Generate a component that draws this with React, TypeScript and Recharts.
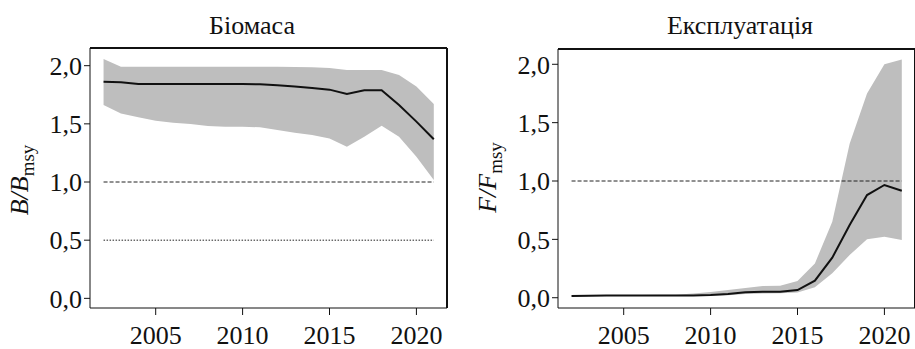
import React from 'react';
import {
  ComposedChart,
  Area,
  Line,
  XAxis,
  YAxis,
  ReferenceLine,
} from 'recharts';

// years of the assessment
const years = [
  2002, 2003, 2004, 2005, 2006, 2007, 2008, 2009, 2010, 2011,
  2012, 2013, 2014, 2015, 2016, 2017, 2018, 2019, 2020, 2021,
];

// B/Bmsy: median and the uncertainty band
const bRatio = [
  1.862, 1.857, 1.843, 1.843, 1.843, 1.843, 1.843, 1.843, 1.843, 1.84,
  1.831, 1.822, 1.808, 1.794, 1.756, 1.788, 1.788, 1.662, 1.519, 1.367,
];
const bLow = [
  1.662, 1.59, 1.556, 1.527, 1.51, 1.499, 1.481, 1.476, 1.476, 1.47,
  1.447, 1.424, 1.404, 1.375, 1.304, 1.39, 1.484, 1.39, 1.218, 1.017,
];
const bHigh = [
  2.057, 1.991, 1.991, 1.991, 1.991, 1.991, 1.991, 1.991, 1.991, 1.991,
  1.991, 1.989, 1.986, 1.98, 1.963, 1.963, 1.963, 1.92, 1.82, 1.67,
];

// F/Fmsy: median and the uncertainty band
const fRatio = [
  0.014, 0.017, 0.02, 0.02, 0.02, 0.02, 0.02, 0.02, 0.023, 0.031,
  0.046, 0.051, 0.051, 0.066, 0.146, 0.343, 0.623, 0.88, 0.966, 0.917,
];
const fLow = [
  0.01, 0.013, 0.015, 0.015, 0.015, 0.015, 0.015, 0.015, 0.016, 0.022,
  0.033, 0.037, 0.038, 0.045, 0.09, 0.21, 0.366, 0.5, 0.523, 0.494,
];
const fHigh = [
  0.02, 0.022, 0.024, 0.024, 0.024, 0.025, 0.025, 0.037, 0.049, 0.066,
  0.083, 0.1, 0.103, 0.143, 0.294, 0.65, 1.32, 1.75, 2.0, 2.04,
];

const yTicks = [0, 0.5, 1, 1.5, 2];
const xTicks = [2005, 2010, 2015, 2020];

const FONT = '"Liberation Serif", "Times New Roman", serif';
const X_DOMAIN: [number, number] = [2001.22, 2021.76];

const fmt = (v: number) => v.toFixed(1).replace('.', ',');

const toRows = (mid: number[], lo: number[], hi: number[]) =>
  years.map((year, i) => ({ year, mid: mid[i], band: [lo[i], hi[i]] }));

const biomassRows = toRows(bRatio, bLow, bHigh);
const fishingRows = toRows(fRatio, fLow, fHigh);

// rotated axis title like "B/B_msy"
const axisTitle = (sym: string, cyOffset: number) => (props: any) => {
  const vb = props.viewBox || {};
  const cx = (vb.x ?? 0) + 28;
  const cy = (vb.y ?? 0) + (vb.height ?? 0) / 2 + cyOffset;
  return (
    <text
      x={cx}
      y={cy}
      transform={`rotate(-90, ${cx}, ${cy})`}
      textAnchor="middle"
      fontFamily={FONT}
      fontSize={26}
      fill="#111"
    >
      <tspan fontStyle="italic">{sym}/{sym}</tspan>
      <tspan fontSize={19} dy={6}>msy</tspan>
    </text>
  );
};

interface PanelProps {
  rows: { year: number; mid: number; band: number[] }[];
  yDomain: [number, number];
  top: number;
  sym: string;
  limitLine?: boolean;
  labelShift: number;
}

const Panel: React.FC<PanelProps> = ({ rows, yDomain, top, sym, limitLine, labelShift }) => (
  <ComposedChart
    width={460}
    height={349}
    data={rows}
    margin={{ top, right: 13, bottom: 0, left: 0 }}
  >
    <XAxis
      dataKey="year"
      type="number"
      domain={X_DOMAIN}
      ticks={xTicks}
      allowDataOverflow
      height={41}
      tickSize={7}
      tickMargin={11}
      axisLine={{ stroke: '#111', strokeWidth: 1 }}
      tickLine={{ stroke: '#111' }}
      tick={{ fill: '#111', fontSize: 26, fontFamily: FONT }}
    />
    <YAxis
      type="number"
      domain={yDomain}
      ticks={yTicks}
      allowDataOverflow
      width={90}
      tickSize={6}
      tickMargin={2}
      tickFormatter={fmt}
      axisLine={{ stroke: '#111', strokeWidth: 1 }}
      tickLine={{ stroke: '#111' }}
      tick={{ fill: '#111', fontSize: 26, fontFamily: FONT }}
      label={{ content: axisTitle(sym, labelShift) }}
    />
    <Area
      dataKey="band"
      type="linear"
      stroke="none"
      fill="#bebebe"
      fillOpacity={1}
      isAnimationActive={false}
    />
    <ReferenceLine
      segment={[{ x: 2002, y: 1 }, { x: 2021, y: 1 }]}
      stroke="#222"
      strokeDasharray="4 2"
    />
    {limitLine && (
      <ReferenceLine
        segment={[{ x: 2002, y: 0.5 }, { x: 2021, y: 0.5 }]}
        stroke="#222"
        strokeDasharray="1.5 1.5"
      />
    )}
    <Line
      dataKey="mid"
      type="linear"
      stroke="#111"
      strokeWidth={2}
      dot={false}
      isAnimationActive={false}
    />
    <ReferenceLine y={yDomain[1]} stroke="#111" strokeWidth={2} />
    <ReferenceLine x={X_DOMAIN[1]} stroke="#111" strokeWidth={2} />
  </ComposedChart>
);

export default function App() {
  return (
    <div
      style={{
        position: 'absolute',
        left: 0,
        top: 0,
        width: 915,
        height: 349,
        overflow: 'hidden',
        background: '#fff',
        fontFamily: FONT,
      }}
    >
      <div style={{ position: 'absolute', left: 0, top: 0 }}>
        <Panel rows={biomassRows} yDomain={[-0.083, 2.152]} top={48} sym="B" limitLine labelShift={2} />
      </div>
      <div style={{ position: 'absolute', left: 468, top: 0 }}>
        <Panel rows={fishingRows} yDomain={[-0.088, 2.131]} top={49} sym="F" labelShift={-1} />
      </div>
      <svg
        width={915}
        height={60}
        style={{ position: 'absolute', left: 0, top: 0, pointerEvents: 'none' }}
      >
        <text x={252} y={34} textAnchor="middle" fontFamily={FONT} fontSize={26} fill="#111">
          Біомаса
        </text>
        <text x={740} y={34} textAnchor="middle" fontFamily={FONT} fontSize={26} fill="#111">
          Експлуатація
        </text>
      </svg>
    </div>
  );
}
